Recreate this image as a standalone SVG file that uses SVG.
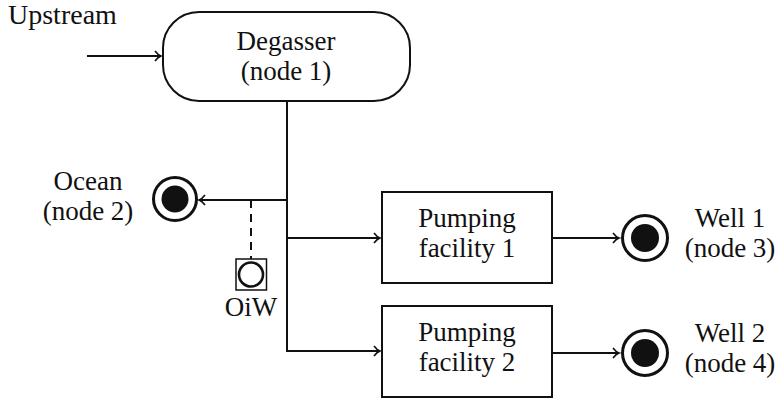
<svg xmlns="http://www.w3.org/2000/svg" width="780" height="403" viewBox="0 0 780 403">
  <defs>
    <marker id="head" viewBox="-8 -6 10 12" markerWidth="10" markerHeight="12" refX="0" refY="0" orient="auto" markerUnits="userSpaceOnUse">
      <path d="M -6 -5 Q -3 -1 0 0 Q -3 1 -6 5" fill="none" stroke="#111" stroke-width="1.6"/>
    </marker>
  </defs>

  <!-- connectors -->
  <g id="connectors" fill="none" stroke="#111" stroke-width="2">
    <line x1="87" y1="56" x2="161" y2="56" marker-end="url(#head)"/>
    <polyline points="287,101 287,351 380,351" marker-end="url(#head)"/>
    <line x1="287" y1="200" x2="199" y2="200" marker-end="url(#head)"/>
    <line x1="287" y1="238" x2="380" y2="238" marker-end="url(#head)"/>
    <line x1="552" y1="238" x2="619" y2="238" marker-end="url(#head)"/>
    <line x1="552" y1="353" x2="619" y2="353" marker-end="url(#head)"/>
    <line x1="251" y1="200" x2="251" y2="259" stroke-dasharray="8,6"/>
  </g>

  <text x="8" y="24" font-size="28" font-family="Liberation Serif" fill="#111">Upstream</text>

  <g id="degasser">
    <rect x="163" y="12" width="247" height="89" rx="36" ry="36" fill="#fff" stroke="#111" stroke-width="2"/>
    <text x="286" y="50" font-size="27" font-family="Liberation Serif" fill="#111" text-anchor="middle">Degasser</text>
    <text x="286" y="80" font-size="27" font-family="Liberation Serif" fill="#111" text-anchor="middle">(node 1)</text>
  </g>

  <g id="ocean">
    <circle cx="175" cy="199" r="21.5" fill="#fff" stroke="#111" stroke-width="3"/>
    <circle cx="175" cy="199" r="13.5" fill="#111"/>
    <text x="88" y="190" font-size="27" font-family="Liberation Serif" fill="#111" text-anchor="middle">Ocean</text>
    <text x="88" y="220" font-size="27" font-family="Liberation Serif" fill="#111" text-anchor="middle">(node 2)</text>
  </g>

  <g id="oiw">
    <rect x="236" y="259" width="30.5" height="31" fill="#fff" stroke="#111" stroke-width="1.5"/>
    <circle cx="251" cy="274.5" r="12" fill="#fff" stroke="#111" stroke-width="2.6"/>
    <text x="251" y="316" font-size="27" font-family="Liberation Serif" fill="#111" text-anchor="middle">OiW</text>
  </g>

  <g id="pump1">
    <rect x="382" y="192" width="170" height="91" fill="#fff" stroke="#111" stroke-width="2"/>
    <text x="467" y="227" font-size="27" font-family="Liberation Serif" fill="#111" text-anchor="middle">Pumping</text>
    <text x="467" y="257" font-size="27" font-family="Liberation Serif" fill="#111" text-anchor="middle">facility 1</text>
  </g>

  <g id="pump2">
    <rect x="382" y="306" width="170" height="91" fill="#fff" stroke="#111" stroke-width="2"/>
    <text x="467" y="341" font-size="27" font-family="Liberation Serif" fill="#111" text-anchor="middle">Pumping</text>
    <text x="467" y="371" font-size="27" font-family="Liberation Serif" fill="#111" text-anchor="middle">facility 2</text>
  </g>

  <g id="well1">
    <circle cx="645" cy="238" r="22.5" fill="#fff" stroke="#111" stroke-width="3"/>
    <circle cx="645" cy="238" r="14" fill="#111"/>
    <text x="730" y="227" font-size="27" font-family="Liberation Serif" fill="#111" text-anchor="middle">Well 1</text>
    <text x="730" y="257" font-size="27" font-family="Liberation Serif" fill="#111" text-anchor="middle">(node 3)</text>
  </g>

  <g id="well2">
    <circle cx="645" cy="353" r="22.5" fill="#fff" stroke="#111" stroke-width="3"/>
    <circle cx="645" cy="353" r="14" fill="#111"/>
    <text x="730" y="342" font-size="27" font-family="Liberation Serif" fill="#111" text-anchor="middle">Well 2</text>
    <text x="730" y="372" font-size="27" font-family="Liberation Serif" fill="#111" text-anchor="middle">(node 4)</text>
  </g>
</svg>
